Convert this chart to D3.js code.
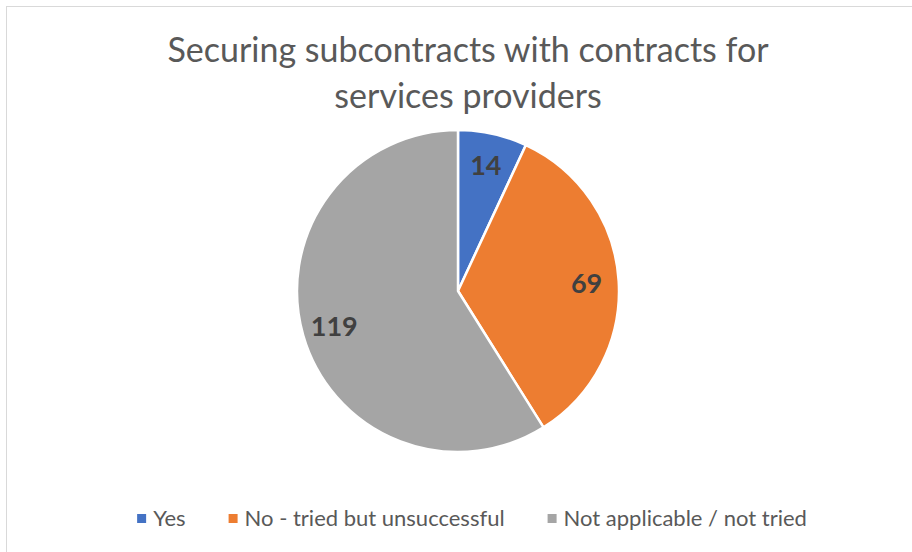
<!DOCTYPE html>
<html>
<head>
<meta charset="utf-8">
<script src="https://cdn.jsdelivr.net/npm/d3@7"></script>
<style>
  html, body { margin: 0; padding: 0; background: #ffffff; }
  svg { display: block; }
</style>
</head>
<body>
<svg id="chart" width="912" height="552"></svg>
<script>
// Survey answers and their counts
const categories = ["Yes", "No - tried but unsuccessful", "Not applicable / not tried"];
const counts = [14, 69, 119];
const sliceColors = ["#4472C4", "#ED7D31", "#A5A5A5"];
const titleLines = ["Securing subcontracts with contracts for", "services providers"];

const W = 912, H = 552;
const fontFamily = "Lato, 'Open Sans', 'Liberation Sans', sans-serif";
const svg = d3.select("#chart");

// chart frame (runs past the right and bottom edges)
svg.append("rect")
  .attr("x", 6.5).attr("y", 6.5)
  .attr("width", W + 20).attr("height", H + 20)
  .attr("fill", "#ffffff")
  .attr("stroke", "#d9d9d9")
  .attr("stroke-width", 1);

// title
const titleX = 468;
svg.append("text")
  .attr("text-anchor", "middle")
  .attr("font-family", fontFamily)
  .attr("font-size", 34)
  .attr("font-weight", 400)
  .attr("fill", "#595959")
  .selectAll("tspan")
  .data(titleLines)
  .join("tspan")
  .attr("x", titleX)
  .attr("y", (d, i) => 62 + i * 46)
  .text(d => d);

// pie
const cx = 458, cy = 291, radius = 161;
const data = categories.map((c, i) => ({ category: c, value: counts[i], color: sliceColors[i] }));
const pie = d3.pie().value(d => d.value).sort(null);
const arcs = pie(data);
const arc = d3.arc().innerRadius(0).outerRadius(radius);
const labelArc = d3.arc().innerRadius(radius * 0.8).outerRadius(radius * 0.8);

const g = svg.append("g").attr("transform", `translate(${cx},${cy})`);
g.selectAll("path.slice")
  .data(arcs)
  .join("path")
  .attr("class", "slice")
  .attr("d", arc)
  .attr("fill", d => d.data.color)
  .attr("stroke", "#ffffff")
  .attr("stroke-width", 2.5)
  .attr("stroke-linejoin", "round");

g.selectAll("text.value")
  .data(arcs)
  .join("text")
  .attr("class", "value")
  .attr("transform", d => `translate(${labelArc.centroid(d)})`)
  .attr("text-anchor", "middle")
  .attr("dy", "0.36em")
  .attr("font-family", fontFamily)
  .attr("font-size", 27)
  .attr("font-weight", 700)
  .attr("fill", "#404040")
  .text(d => d.data.value);

// legend
const legendY = 526, swatch = 9, swatchGap = 7, itemGap = 43, legendCenter = 472;
const legend = svg.append("g")
  .attr("font-family", fontFamily)
  .attr("font-size", 22)
  .attr("fill", "#595959");
const items = legend.selectAll("g.item")
  .data(data)
  .join("g")
  .attr("class", "item");
items.append("rect")
  .attr("width", swatch).attr("height", swatch)
  .attr("y", legendY - 12)
  .attr("fill", d => d.color);
items.append("text")
  .attr("x", swatch + swatchGap)
  .attr("y", legendY)
  .text(d => d.category);

const widths = [];
items.each(function () { widths.push(this.getBBox().width); });
const total = d3.sum(widths) + itemGap * (widths.length - 1);
let xPos = legendCenter - total / 2;
items.attr("transform", (d, i) => {
  const t = `translate(${xPos},0)`;
  xPos += widths[i] + itemGap;
  return t;
});
</script>
</body>
</html>
